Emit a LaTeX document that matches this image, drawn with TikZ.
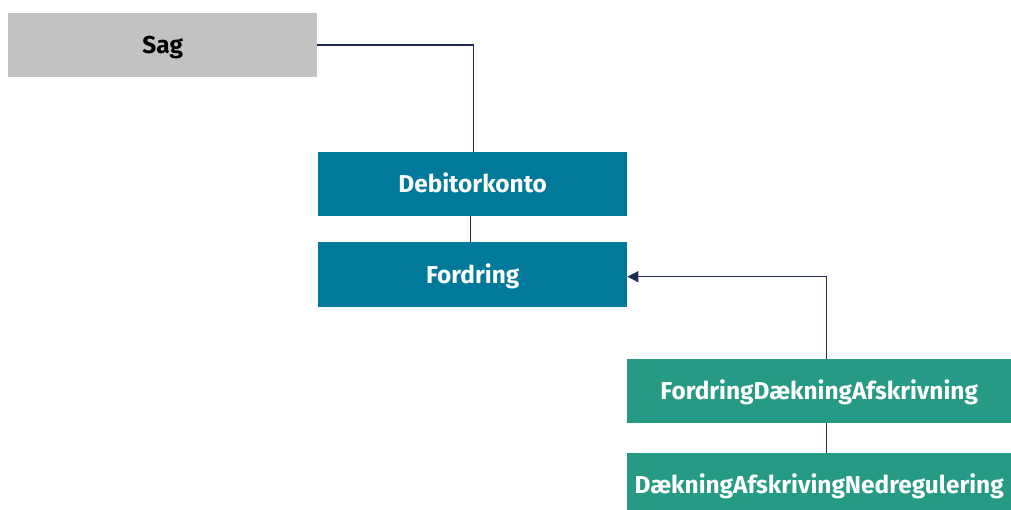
\documentclass[tikz,border=0pt]{standalone}
\usepackage{fontspec}
\setmainfont{Fira Sans}
\usetikzlibrary{arrows.meta}
\definecolor{sagGrey}{HTML}{C3C1C2}
\definecolor{boxBlue}{HTML}{00799A}
\definecolor{boxTeal}{HTML}{279A86}
\definecolor{lineNavy}{HTML}{1E2A50}
\tikzset{
  box/.style={rectangle, inner sep=0pt, minimum width=309pt, minimum height=64pt,
    text height=17pt, text depth=0pt,
    font=\fontsize{24.4}{28}\selectfont\bfseries, anchor=north west},
  greybox/.style={box, fill=sagGrey, text=black},
  bluebox/.style={box, fill=boxBlue, text=white},
  tealbox/.style={box, fill=boxTeal, text=white, minimum width=384pt},
  conn/.style={draw=lineNavy, line width=1.4pt},
  arr/.style={conn, -{Triangle[length=11pt, width=11pt]}}
}
\begin{document}
\begin{tikzpicture}[x=1pt, y=-1pt]
\useasboundingbox (0,0) rectangle (1011,510);
\begin{scope}
\clip (0,0) rectangle (1011,510);
\node[greybox] (sag) at (8,13) {Sag};
\node[bluebox] (deb) at (318,152) {Debitorkonto};
\node[bluebox, minimum height=65pt] (ford) at (318,242) {Fordring};
\node[tealbox] (fda) at (627,359) {FordringDækningAfskrivning};
\node[tealbox] (dan) at (627,453) {DækningAfskrivingNedregulering};
\end{scope}
\draw[conn] (sag.east) -| ([xshift=1pt]deb.north);
\draw[conn] ([xshift=-2pt]deb.south) -- ([xshift=-2pt]ford.north);
\draw[arr] ([xshift=7pt]fda.north) |- ([yshift=-2pt]ford.east);
\draw[conn] ([xshift=7pt]fda.south) -- ([xshift=7pt]dan.north);
\end{tikzpicture}
\end{document}
